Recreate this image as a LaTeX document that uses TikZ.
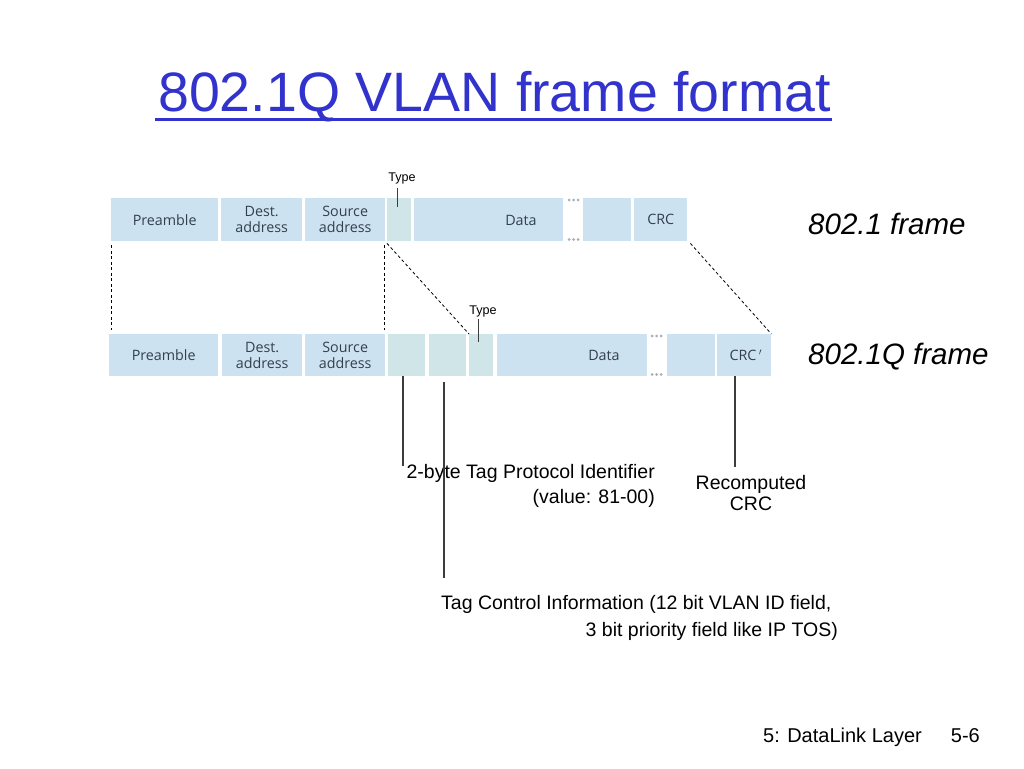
\documentclass[tikz,border=0pt]{standalone}
\usepackage{fontspec}
\setmainfont{Liberation Sans}
\newfontfamily\boxfont{Open Sans}
\usetikzlibrary{calc}
\definecolor{titleblue}{RGB}{50,50,205}
\definecolor{fieldblue}{RGB}{205,226,240}
\definecolor{fieldgreen}{RGB}{207,229,232}
\definecolor{fieldtext}{RGB}{50,64,76}
\definecolor{dotgray}{RGB}{165,175,185}
\definecolor{leadergray}{RGB}{60,60,60}
\begin{document}
\begin{tikzpicture}[x=1pt,y=-1pt,
  field/.style={fill=fieldblue, draw=none, inner sep=0pt, anchor=north west,
    font=\boxfont\fontsize{14.3}{16}\selectfont, text=fieldtext, align=center},
  tagfield/.style={field, fill=fieldgreen},
  fieldtxt/.style={inner sep=0pt, font=\boxfont\fontsize{14.3}{16}\selectfont, text=fieldtext},
  body/.style={inner sep=0pt, font=\fontsize{19.5}{24}\selectfont, text=black},
  typelbl/.style={inner sep=0pt, font=\fontsize{12.6}{14}\selectfont, text=black},
  framelbl/.style={inner sep=0pt, font=\itshape\fontsize{29.5}{32}\selectfont, text=black},
  titlestyle/.style={inner sep=0pt, font=\fontsize{55.5}{60}\selectfont, text=titleblue},
  dashline/.style={black, line width=0.8pt, dash pattern=on 3pt off 2.5pt},
  leader/.style={leadergray, line width=1.2pt},
  tickline/.style={leadergray, line width=1pt},
  dot/.style={circle, fill=dotgray, inner sep=0pt, minimum size=3pt}
]
\useasboundingbox[fill=white] (0,0) rectangle (1024,768);

% title
\node[titlestyle, anchor=base west] (title) at (158,111) {802.1Q VLAN frame format};
\draw[titleblue, line width=3pt] ([yshift=-8pt,xshift=-3pt]title.base west) -- ([yshift=-8pt,xshift=1pt]title.base east);

% top frame (802.1)
\node[field, minimum width=107pt, minimum height=43pt] (pre1) at (111,198) {Preamble};
\node[field, minimum width=81pt, minimum height=43pt] (dst1) at (221,198) {Dest.\\address};
\node[field, minimum width=80pt, minimum height=43pt] (src1) at (305,198) {Source\\address};
\node[tagfield, minimum width=24pt, minimum height=43pt] (typ1) at (387,198) {};
\node[field, minimum width=149pt, minimum height=43pt] (dat1) at (414,198) {};
\node[fieldtxt] (dat1t) at (521,220) {Data};
\node[field, minimum width=48pt, minimum height=43pt] (blk1) at (583,198) {};
\node[field, minimum width=53pt, minimum height=43pt] (crc1) at (634,198) {CRC};
\foreach \i/\x in {1/569,2/573.5,3/578}{
  \node[dot] (d1t\i) at (\x,200) {};
  \node[dot] (d1b\i) at (\x,239.5) {};
}

% bottom frame (802.1Q)
\node[field, minimum width=109pt, minimum height=42pt] (pre2) at (109,334) {Preamble};
\node[field, minimum width=80pt, minimum height=42pt] (dst2) at (222,334) {Dest.\\address};
\node[field, minimum width=80pt, minimum height=42pt] (src2) at (305,334) {Source\\address};
\node[tagfield, minimum width=37pt, minimum height=42pt] (tpi) at (388,334) {};
\node[tagfield, minimum width=37pt, minimum height=42pt] (tci) at (429,334) {};
\node[tagfield, minimum width=24pt, minimum height=42pt] (typ2) at (469,334) {};
\node[field, minimum width=150pt, minimum height=42pt] (dat2) at (497,334) {};
\node[fieldtxt] (dat2t) at (604,355) {Data};
\node[field, minimum width=48pt, minimum height=42pt] (blk2) at (667,334) {};
\node[field, minimum width=54pt, minimum height=42pt] (crc2) at (717,334) {};
\node[fieldtxt] (crc2t) at (743,355) {CRC\rlap{\,$^{\prime}$}};
\foreach \i/\x in {1/652,2/656.5,3/661}{
  \node[dot] (d2t\i) at (\x,336) {};
  \node[dot] (d2b\i) at (\x,374.5) {};
}

% dashed correspondence lines
\draw[dashline] ([yshift=-4pt]pre1.south west) -- ([yshift=4pt]pre1.south west |- pre2.north);
\draw[dashline] ([yshift=-4pt,xshift=-1pt]src1.south east) -- ([xshift=-1pt,yshift=4pt]src1.south east |- src2.north);
\draw[dashline] ([yshift=-2pt]typ1.south west) -- (typ2.north west);
\draw[dashline] ([yshift=-2pt,xshift=3pt]crc1.south east) -- (crc2.north east);

% Type labels
\node[typelbl] (type1) at (402,178) {Type};
\coordinate (t1end) at (397,207);
\draw[tickline] ([yshift=-4pt]type1.south -| t1end) -- (t1end);
\node[typelbl] (type2) at (483,311) {Type};
\coordinate (t2end) at (478,342);
\draw[tickline] ([yshift=-2pt]type2.south -| t2end) -- (t2end);

% frame names
\node[framelbl, anchor=base west] (f1) at (808,234) {802.1 frame};
\node[framelbl, anchor=base west] (f2) at (808,364) {802.1Q frame};

% annotations
\node[body, anchor=base east] (tpi1) at (655,478) {2-byte Tag Protocol Identifier};
\node[body, anchor=base east] (tpi2) at (655,503) {(value: 81-00)};
\node[body, anchor=base] (rc1) at (751,489) {Recomputed};
\node[body, anchor=base] (rc2) at (751,510) {CRC};
\node[body, anchor=base west] (tci1) at (441,609) {Tag Control Information (12 bit VLAN ID field,};
\node[body, anchor=base east] (tci2) at (838,636) {3 bit priority field like IP TOS)};

% leaders
\coordinate (tpiend) at (403,466);
\draw[leader] (tpi.south -| tpiend) -- (tpiend);
\coordinate (tciend) at (444,578);
\draw[leader] ([yshift=-6pt]tci.south -| tciend) -- (tciend);
\coordinate (crcend) at (735,467);
\draw[leader] (crc2.south -| crcend) -- (crcend);

% footer
\node[body, font=\fontsize{20}{24}\selectfont, anchor=base west] (foot1) at (763,742) {5: DataLink Layer};
\node[body, font=\fontsize{20}{24}\selectfont, anchor=base east] (foot2) at (980,742) {5-6};
\end{tikzpicture}
\end{document}
